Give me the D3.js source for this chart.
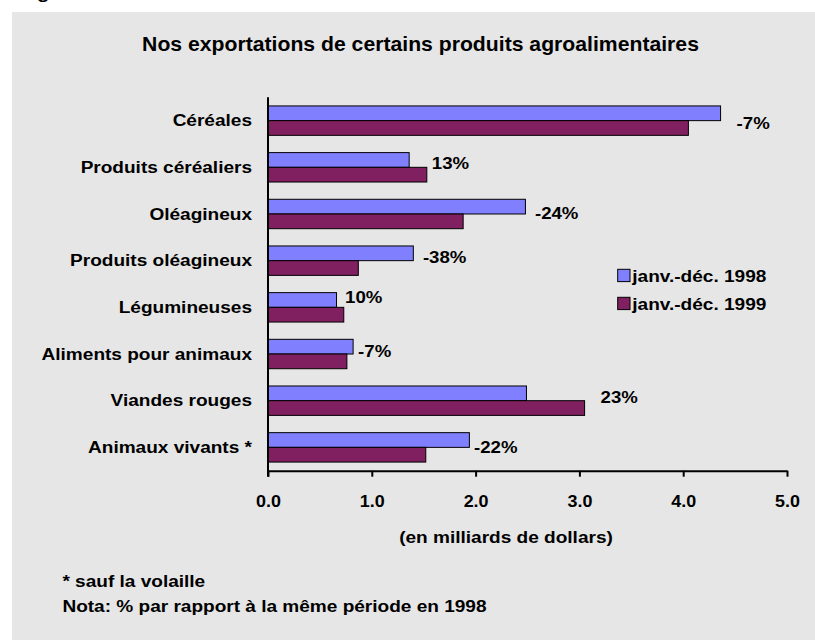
<!DOCTYPE html>
<html>
<head>
<meta charset="utf-8">
<script src="https://cdn.jsdelivr.net/npm/d3@7"></script>
<style>
  html, body { margin: 0; padding: 0; background: #ffffff; }
  svg { display: block; }
  text { font-family: "Liberation Sans", Arial, Helvetica, sans-serif; font-weight: bold; fill: #000; }
</style>
</head>
<body>
<svg id="chart" width="815" height="640"></svg>
<script>
// ---- data ----
const categories = ["Céréales", "Produits céréaliers", "Oléagineux", "Produits oléagineux",
                    "Légumineuses", "Aliments pour animaux", "Viandes rouges", "Animaux vivants *"];
const values1998 = [4.36, 1.36, 2.48, 1.40, 0.66, 0.82, 2.49, 1.94];
const values1999 = [4.05, 1.53, 1.88, 0.87, 0.73, 0.76, 3.05, 1.52];
const changePct  = [-7, 13, -24, -38, 10, -7, 23, -22];
const seriesNames = ["janv.-déc. 1998", "janv.-déc. 1999"];
const xTicks = [0, 1, 2, 3, 4, 5];

// ---- layout / style ----
const colors = ["#8080ff", "#802060"];
const labelNudgeX = [16, 5, 9.5, 9.6, 1.3, 5, 16, 4.6];
const labelNudgeY = [2, -4.7, -0.8, -3.2, -10, -3.2, -3.3, 0];
const SX = 1.19;      // horizontal text stretch of the reference
const SX_TITLE = 1.06;

const svg = d3.select("#chart");

// panel background
svg.append("rect").attr("x", 12).attr("y", 12).attr("width", 803).attr("height", 628).attr("fill", "#e6e6e6");

// cut-off heading glyph at top-left
svg.append("text").attr("transform", `translate(37,-1.5) scale(${SX},1)`).style("font-size", "17px").text("g");

const x = d3.scaleLinear().domain([0, 5]).range([268, 787]);
const y = d3.scaleBand().domain(categories).range([97.3, 470.7]).paddingInner(0.37).paddingOuter(0.185);
const ys = d3.scaleBand().domain([0, 1]).range([0, y.bandwidth()]);

const rows = categories.map((c, i) => ({ c, i, v: [values1998[i], values1999[i]], p: changePct[i] }));

// title
svg.append("text")
  .attr("transform", `translate(420.5,51) scale(${SX_TITLE},1)`)
  .attr("text-anchor", "middle").style("font-size", "20px")
  .text("Nos exportations de certains produits agroalimentaires");

// bars
const g = svg.append("g").selectAll("g").data(rows).join("g")
  .attr("transform", d => `translate(0,${y(d.c)})`);
g.selectAll("rect").data(d => d.v.map((v, s) => ({ v, s }))).join("rect")
  .attr("x", x(0))
  .attr("y", d => ys(d.s))
  .attr("width", d => x(d.v) - x(0))
  .attr("height", ys.bandwidth())
  .attr("fill", d => colors[d.s])
  .attr("stroke", "#000").attr("stroke-width", 1);

// percentage labels
svg.append("g").selectAll("text").data(rows).join("text")
  .attr("transform", d => `translate(${x(d3.max(d.v)) + labelNudgeX[d.i]},${y(d.c) + y.bandwidth() / 2 + labelNudgeY[d.i]}) scale(1.13,1)`)
  .attr("dy", "0.36em").style("font-size", "16.5px")
  .text(d => d.p + "%");

// category labels
svg.append("g").selectAll("text").data(rows).join("text")
  .attr("transform", d => `translate(252,${y(d.c) + y.bandwidth() / 2}) scale(${SX},1)`)
  .attr("text-anchor", "end").attr("dy", "0.36em").style("font-size", "16px")
  .text(d => d.c);

// vertical axis line
svg.append("line")
  .attr("x1", x(0)).attr("x2", x(0))
  .attr("y1", y.range()[0]).attr("y2", y.range()[1] + 6)
  .attr("stroke", "#000").attr("stroke-width", 2);

// x axis
const ax = svg.append("g").attr("transform", `translate(0,${y.range()[1]})`)
  .call(d3.axisBottom(x).tickValues(xTicks).tickFormat(d3.format(".1f"))
        .tickSizeInner(6).tickSizeOuter(0).tickPadding(18.6));
ax.select(".domain").attr("stroke", "#000").attr("stroke-width", 2);
ax.selectAll(".tick line").attr("stroke", "#000").attr("stroke-width", 2);
ax.selectAll(".tick text")
  .attr("transform", `scale(1.12,1)`)
  .style("font-size", "16px").style("font-family", null).attr("font-family", null);
ax.attr("font-family", null).attr("font-size", null);

// axis title
svg.append("text")
  .attr("transform", `translate(506,543) scale(${SX},1)`)
  .attr("text-anchor", "middle").style("font-size", "16px")
  .text("(en milliards de dollars)");

// legend
const lg = svg.append("g").selectAll("g").data(seriesNames).join("g")
  .attr("transform", (d, i) => `translate(617.7,${269.3 + i * 28})`);
lg.append("rect").attr("width", 12.3).attr("height", 12.3)
  .attr("fill", (d, i) => colors[i]).attr("stroke", "#000").attr("stroke-width", 1);
lg.append("text")
  .attr("transform", `translate(14.6,12.4) scale(${SX},1)`)
  .style("font-size", "16px").text(d => d);

// footnotes
const notes = ["* sauf la volaille", "Nota: % par rapport à la même période en 1998"];
svg.append("g").selectAll("text").data(notes).join("text")
  .attr("transform", (d, i) => `translate(62.4,${587 + i * 24.5}) scale(${SX},1)`)
  .style("font-size", "16px").text(d => d);
</script>
</body>
</html>
